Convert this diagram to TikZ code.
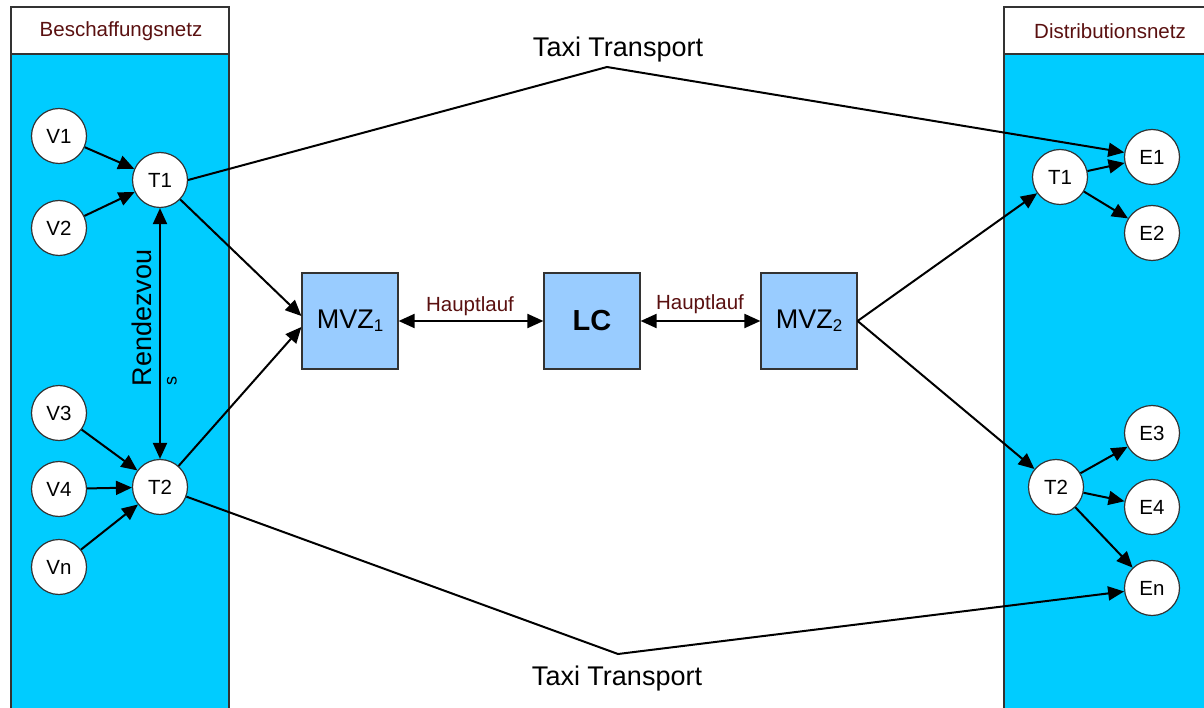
\documentclass[tikz,border=0pt]{standalone}
\usepackage{fontspec}
\setmainfont{Liberation Sans}
\usetikzlibrary{arrows.meta}
\definecolor{panelblue}{HTML}{00CCFF}
\definecolor{boxblue}{HTML}{99CCFF}
\definecolor{framegray}{HTML}{333333}
\definecolor{labelred}{HTML}{5A1010}
\newcommand{\fsz}[1]{\fontsize{#1}{#1}\selectfont}
\begin{document}
\begin{tikzpicture}[x=1pt,y=-1pt,
  stop/.style={circle,draw=framegray,line width=1.2pt,fill=white,
    minimum size=55pt,inner sep=0pt,font=\fsz{20.5}},
  hub/.style={rectangle,draw=framegray,line width=1.2pt,fill=boxblue,
    minimum size=96pt,inner sep=0pt},
  link/.style={line width=2pt,-{Triangle[length=16pt,width=14pt]}},
  both/.style={line width=2pt,{Triangle[length=16pt,width=14pt]}-{Triangle[length=16pt,width=14pt]}},
  panel/.style={draw=framegray,line width=1.2pt},
  head/.style={font=\fsz{20.5},text=labelred},
  big/.style={font=\fsz{27}}]
\useasboundingbox (0,0) rectangle (1204,708);
\fill[white] (0,0) rectangle (1204,708);

% the two network panels
\begin{scope}
  \clip (0,0) rectangle (1204,708);
  \draw[panel,fill=panelblue] (11,54) rectangle (229,716);
  \draw[panel,fill=white] (11,7) rectangle (229,54);
  \draw[panel,fill=panelblue] (1004,54) rectangle (1214,716);
  \draw[panel,fill=white] (1004,7) rectangle (1214,54);
\end{scope}
\node[head] (hbes) at (121,31) {Beschaffungsnetz};
\node[head] (hdis) at (1110,31) {Distributionsnetz};

% procurement side
\node[stop] (v1) at (59,136) {V1};
\node[stop] (v2) at (59,228) {V2};
\node[stop] (v3) at (59,413) {V3};
\node[stop] (v4) at (59,489) {V4};
\node[stop] (vn) at (59,567) {Vn};
\node[stop] (ta) at (160,180) {T1};
\node[stop] (tb) at (160,487) {T2};

% distribution side
\node[stop] (tc) at (1060,177) {T1};
\node[stop] (td) at (1056,487) {T2};
\node[stop] (e1) at (1152,157) {E1};
\node[stop] (e2) at (1152,233) {E2};
\node[stop] (e3) at (1152,433) {E3};
\node[stop] (e4) at (1152,507) {E4};
\node[stop] (en) at (1152,588) {En};

% hubs
\node[hub,font=\fsz{27}] (mvz1) at (350,321) {MVZ\raisebox{-3pt}{\fsz{17}1}};
\node[hub,font=\fsz{29}\bfseries] (lc) at (592,321) {LC};
\node[hub,font=\fsz{27}] (mvz2) at (809,321) {MVZ\raisebox{-3pt}{\fsz{17}2}};

% feeder arrows
\draw[link] (v1) -- (ta);
\draw[link] (v2) -- (ta);
\draw[link] (v3) -- (tb);
\draw[link] (v4) -- (tb);
\draw[link] (vn) -- (tb);
\draw[both] (ta) -- (tb);
\node[big,rotate=90] (rdv) at (142,318) {Rendezvou};
\node[font=\fsz{18},rotate=90] (rdvs) at (172,381) {s};

\draw[link] (ta) -- ([yshift=5pt]mvz1.west);
\draw[link] (tb) -- ([yshift=-6pt]mvz1.west);

% main haul
\draw[both] (mvz1) -- (lc);
\draw[both] (lc) -- (mvz2);
\node[font=\fsz{20.5},text=labelred] (hl1) at (470,306) {Hauptlauf};
\node[font=\fsz{20.5},text=labelred] (hl2) at (700,304) {Hauptlauf};

% distribution arrows
\draw[link] (mvz2.east) -- (tc);
\draw[link] (mvz2.east) -- (td);
\draw[link] (tc) -- (e1);
\draw[link] (tc) -- (e2);
\draw[link] (td) -- (e3);
\draw[link] (td) -- (e4);
\draw[link] (td) -- (en);

% direct taxi transports
\coordinate (ptop) at (607,67);
\coordinate (pbot) at (618,654);
\draw[link] (ta.east) -- (ptop) -- (e1);
\draw[link] (tb) -- (pbot) -- (en);
\node[big] (tx1) at (618,50) {Taxi Transport};
\node[big] (tx2) at (617,679) {Taxi Transport};
\end{tikzpicture}
\end{document}
